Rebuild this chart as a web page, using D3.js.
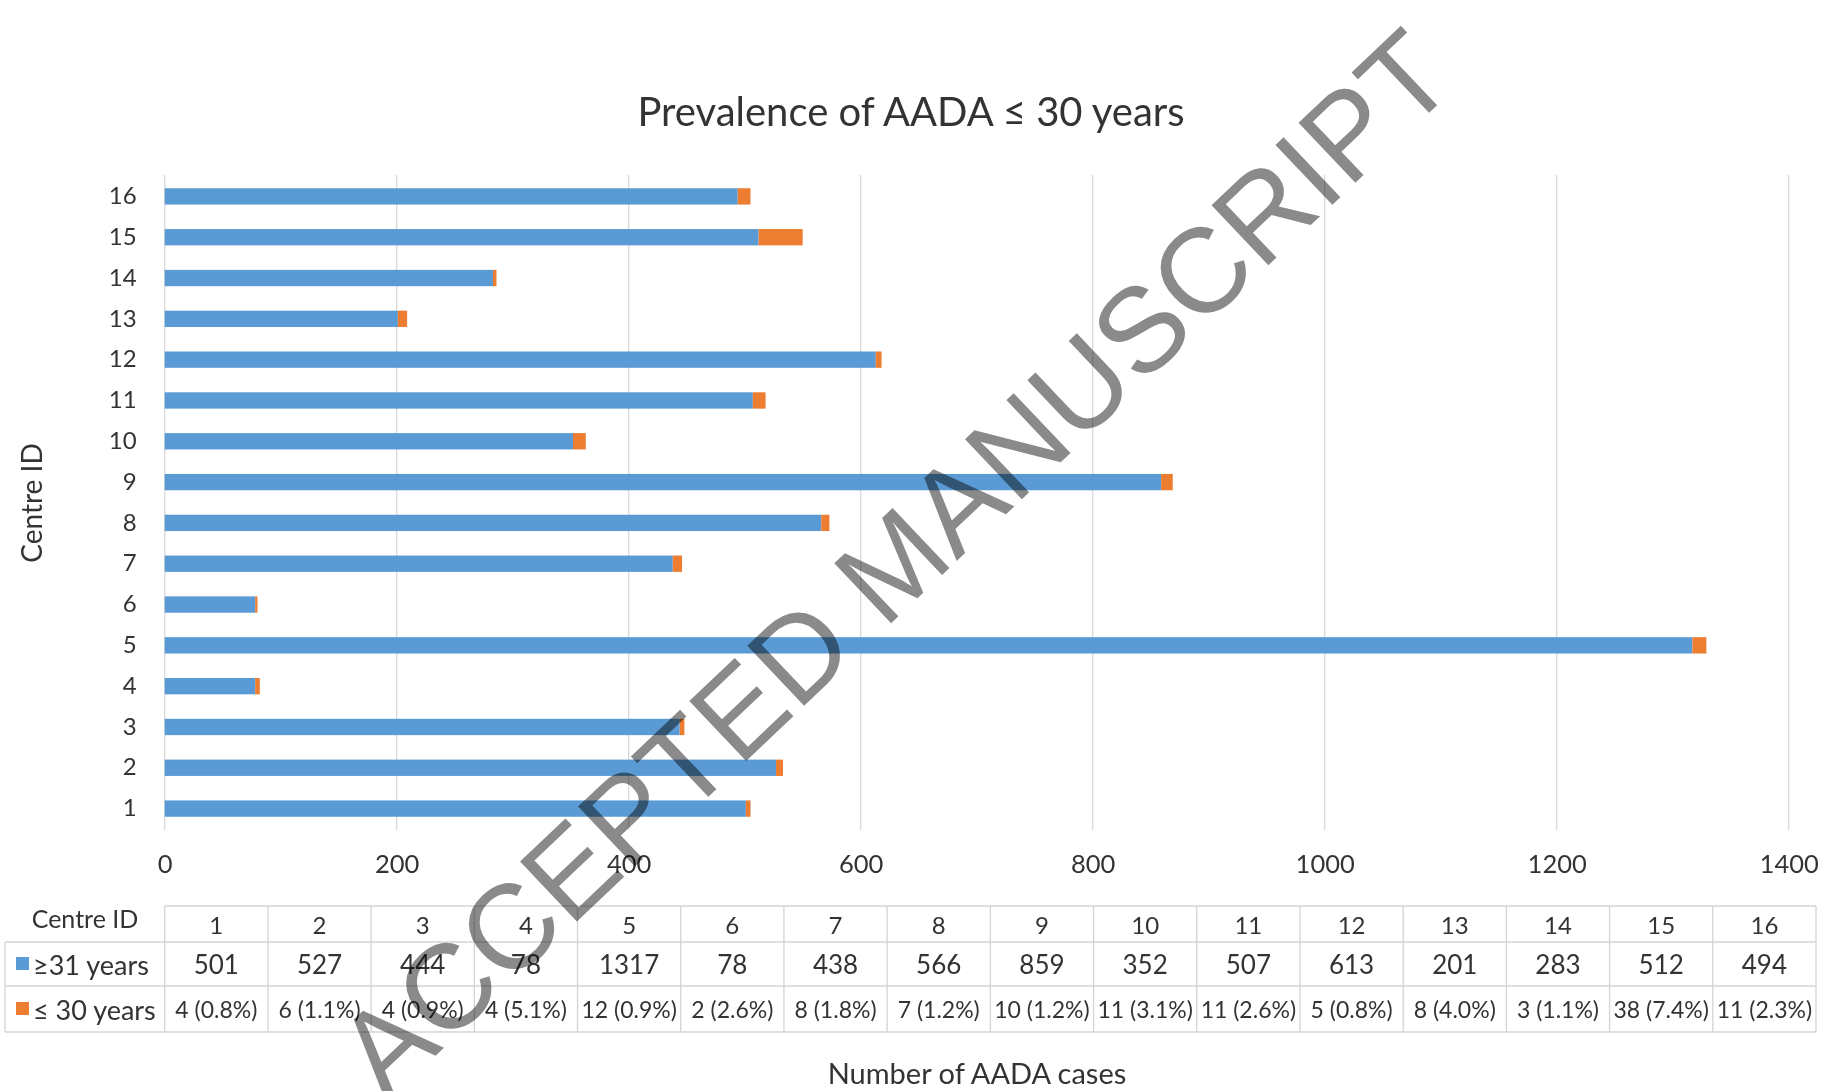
<!DOCTYPE html>
<html>
<head>
<meta charset="utf-8">
<script src="https://cdn.jsdelivr.net/npm/d3@7/dist/d3.min.js"></script>
<style>
  html, body { margin: 0; padding: 0; background: #ffffff; }
  svg { display: block; font-family: Lato, "Open Sans", sans-serif; }
</style>
</head>
<body>
<svg id="chart" width="1824" height="1091"></svg>
<script>
// Centre identifiers and case counts per age group
const centres = ["1","2","3","4","5","6","7","8","9","10","11","12","13","14","15","16"];
const over31 = [501, 527, 444, 78, 1317, 78, 438, 566, 859, 352, 507, 613, 201, 283, 512, 494];
const under30 = [4, 6, 4, 4, 12, 2, 8, 7, 10, 11, 11, 5, 8, 3, 38, 11];
const under30Pct = ["0.8%","1.1%","0.9%","5.1%","0.9%","2.6%","1.8%","1.2%","1.2%","3.1%","2.6%","0.8%","4.0%","1.1%","7.4%","2.3%"];
const seriesNames = ["≥31 years", "≤ 30 years"];
const xTicks = [0, 200, 400, 600, 800, 1000, 1200, 1400];

const titleText = "Prevalence of AADA ≤ 30 years";
const xTitle = "Number of AADA cases";
const yTitle = "Centre ID";
const stampText = "ACCEPTED MANUSCRIPT";

const colors = ["#5b9bd5", "#ed7d31"];
const textColor = "#333333";
const gridColor = "#d9d9d9";

const svg = d3.select("#chart");

const plotTop = 175, plotBottom = 830;
const x = d3.scaleLinear().domain([0, 1400]).range([164.7, 1788.7]);
const y = d3.scaleBand()
  .domain(centres.slice().reverse())
  .range([176, 829])
  .paddingInner(0.6)
  .paddingOuter(0.3);

// Title
svg.append("text")
  .attr("x", 911).attr("y", 111)
  .attr("text-anchor", "middle").attr("dominant-baseline", "central")
  .attr("fill", textColor).style("font-size", "40px")
  .text(titleText);

// Vertical gridlines (including the value axis at zero)
svg.append("g").selectAll("line")
  .data(xTicks)
  .join("line")
  .attr("x1", d => x(d)).attr("x2", d => x(d))
  .attr("y1", plotTop).attr("y2", plotBottom)
  .attr("stroke", gridColor).attr("stroke-width", 1.3);

// Stacked bars
const stackData = centres.map((c, i) => ({ centre: c, over31: over31[i], under30: under30[i] }));
const stacked = d3.stack().keys(["over31", "under30"])(stackData);

svg.append("g").selectAll("g")
  .data(stacked)
  .join("g")
  .attr("fill", (d, i) => colors[i])
  .selectAll("rect")
  .data(d => d)
  .join("rect")
  .attr("x", d => x(d[0]))
  .attr("width", d => x(d[1]) - x(d[0]))
  .attr("y", d => y(d.data.centre))
  .attr("height", y.bandwidth());

// Category axis labels
const yAxis = d3.axisLeft(y).tickSize(0).tickPadding(0);
const yg = svg.append("g").attr("transform", `translate(${x(0) - 28},0)`).call(yAxis);
yg.select(".domain").remove();
yg.selectAll("text").attr("fill", textColor).style("font-size", "24px").style("font-family", "Lato, sans-serif");

// Value axis labels
const xAxis = d3.axisBottom(x).tickValues(xTicks).tickSize(0).tickPadding(0).tickFormat(d3.format("d"));
const xg = svg.append("g").attr("transform", "translate(0,855)").call(xAxis);
xg.select(".domain").remove();
xg.selectAll("text").attr("fill", textColor).style("font-size", "25.5px").style("font-family", "Lato, sans-serif");

// Axis titles
svg.append("text")
  .attr("transform", "translate(31,503) rotate(-90)")
  .attr("text-anchor", "middle").attr("dominant-baseline", "central")
  .attr("fill", textColor).style("font-size", "28px")
  .text(yTitle);

svg.append("text")
  .attr("x", 977).attr("y", 1072)
  .attr("text-anchor", "middle").attr("dominant-baseline", "central")
  .attr("fill", textColor).style("font-size", "29px")
  .text(xTitle);

// Data table underneath the chart
const col = d3.scaleBand().domain(centres).range([x(0), 1816]);
const tableLeft = 5, tableRight = 1816;
const rowLines = [906, 942, 986, 1032];
const rowCenters = [924, 964, 1009];
const table = svg.append("g").attr("stroke", "#d4d4d4").attr("stroke-width", 1.3);

table.append("line").attr("x1", x(0)).attr("x2", tableRight).attr("y1", rowLines[0]).attr("y2", rowLines[0]);
rowLines.slice(1).forEach(yy => {
  table.append("line").attr("x1", tableLeft).attr("x2", tableRight).attr("y1", yy).attr("y2", yy);
});
table.append("line").attr("x1", tableLeft).attr("x2", tableLeft).attr("y1", rowLines[1]).attr("y2", rowLines[3]);
centres.forEach(c => {
  table.append("line").attr("x1", col(c)).attr("x2", col(c)).attr("y1", rowLines[0]).attr("y2", rowLines[3]);
});
table.append("line").attr("x1", tableRight).attr("x2", tableRight).attr("y1", rowLines[0]).attr("y2", rowLines[3]);

const cellText = svg.append("g").attr("fill", textColor).attr("text-anchor", "middle").attr("dominant-baseline", "central");

cellText.append("text").attr("x", 85).attr("y", 918).style("font-size", "25px").text(yTitle);

cellText.selectAll("text.hdr").data(centres).join("text").attr("class", "hdr")
  .attr("x", d => col(d) + col.bandwidth() / 2).attr("y", rowCenters[0])
  .style("font-size", "24px").text(d => d);

cellText.selectAll("text.v31").data(over31).join("text").attr("class", "v31")
  .attr("x", (d, i) => col(centres[i]) + col.bandwidth() / 2).attr("y", rowCenters[1])
  .style("font-size", "26px").text(d => d);

cellText.selectAll("text.v30").data(under30).join("text").attr("class", "v30")
  .attr("x", (d, i) => col(centres[i]) + col.bandwidth() / 2).attr("y", rowCenters[2])
  .style("font-size", "23px").text((d, i) => `${d} (${under30Pct[i]})`);

// Series keys in the table's row headers
seriesNames.forEach((name, i) => {
  const cy = rowCenters[i + 1];
  svg.append("rect").attr("x", 16).attr("y", cy - 7).attr("width", 13).attr("height", 13).attr("fill", colors[i]);
  svg.append("text").attr("x", 33).attr("y", cy)
    .attr("dominant-baseline", "central").attr("fill", textColor)
    .style("font-size", "27px").text(name);
});

// Diagonal stamp across the figure
svg.append("text")
  .attr("transform", "translate(893,562) rotate(-43.5)")
  .attr("text-anchor", "middle").attr("dy", "0.36em")
  .attr("fill", "#8a8a8a")
  .style("mix-blend-mode", "multiply")
  .style("font-family", "'Liberation Sans', Arial, sans-serif")
  .style("font-size", "120px")
  .text(stampText);
</script>
</body>
</html>
